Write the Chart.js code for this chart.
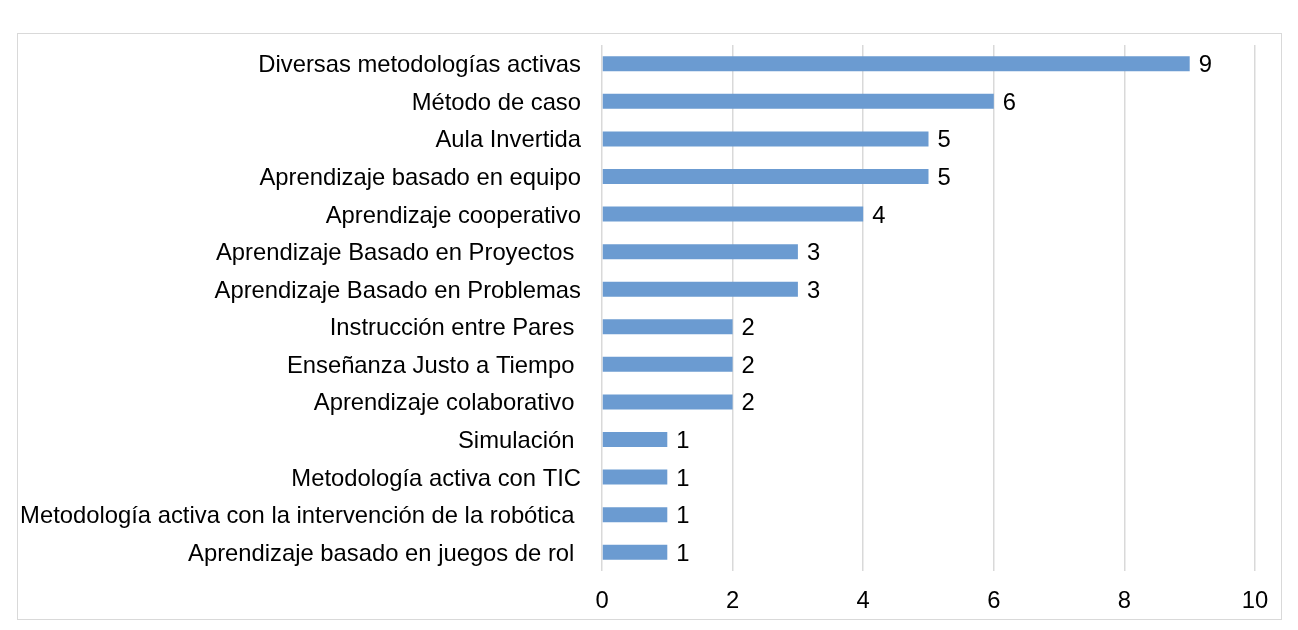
<!DOCTYPE html>
<html>
<head>
<meta charset="utf-8">
<script src="https://cdn.jsdelivr.net/npm/chart.js@4"></script>
<style>
  html, body { margin: 0; padding: 0; background: #fff; }
  #wrap { position: relative; width: 1298px; height: 630px; }
  #frame { position: absolute; left: 17px; top: 33px; width: 1263px; height: 585px; border: 1px solid #d9d9d9; pointer-events: none; }
</style>
</head>
<body>
<div id="wrap">
  <canvas id="chart" width="1298" height="630"></canvas>
  <div id="frame"></div>
</div>
<script>
const categories = [
  'Diversas metodologías activas',
  'Método de caso',
  'Aula Invertida',
  'Aprendizaje basado en equipo',
  'Aprendizaje cooperativo',
  'Aprendizaje Basado en Proyectos ',
  'Aprendizaje Basado en Problemas',
  'Instrucción entre Pares ',
  'Enseñanza Justo a Tiempo ',
  'Aprendizaje colaborativo ',
  'Simulación ',
  'Metodología activa con TIC',
  'Metodología activa con la intervención de la robótica ',
  'Aprendizaje basado en juegos de rol '
];
const counts = [9, 6, 5, 5, 4, 3, 3, 2, 2, 2, 1, 1, 1, 1];
const xTicks = [0, 2, 4, 6, 8, 10];

const font = { family: 'Liberation Sans, Arial, sans-serif', size: 23.8 };

// numbers to the right of each bar
const valueLabels = {
  id: 'valueLabels',
  afterDatasetsDraw(chart) {
    const ctx = chart.ctx;
    const meta = chart.getDatasetMeta(0);
    ctx.save();
    ctx.font = font.size + 'px ' + font.family;
    ctx.fillStyle = '#000';
    ctx.textAlign = 'left';
    ctx.textBaseline = 'middle';
    meta.data.forEach((bar, i) => {
      ctx.fillText(String(counts[i]), bar.x + 9, bar.y + 2);
    });
    ctx.restore();
  }
};

new Chart(document.getElementById('chart'), {
  type: 'bar',
  data: {
    labels: categories,
    datasets: [{
      data: counts,
      backgroundColor: '#6b9bd1',
      borderWidth: 0,
      barPercentage: 0.4,
      categoryPercentage: 1
    }]
  },
  options: {
    indexAxis: 'y',
    responsive: false,
    animation: false,
    layout: { padding: { top: 45, right: 43, left: 0, bottom: 0 } },
    plugins: {
      legend: { display: false },
      tooltip: { enabled: false }
    },
    scales: {
      x: {
        min: 0,
        max: 10,
        afterBuildTicks(scale) {
          scale.ticks = xTicks.map(v => ({ value: v }));
        },
        afterFit(scale) { scale.height = 59; },
        grid: { color: '#d9d9d9', lineWidth: 1.5, drawTicks: false },
        border: { display: false },
        ticks: { color: '#000', font: font, padding: 16 }
      },
      y: {
        afterFit(scale) { scale.width = 602; },
        grid: { display: false, drawTicks: false },
        border: { display: false },
        ticks: { color: '#000', font: font, padding: 21, autoSkip: false, labelOffset: 2 }
      }
    }
  },
  plugins: [valueLabels]
});
</script>
</body>
</html>
